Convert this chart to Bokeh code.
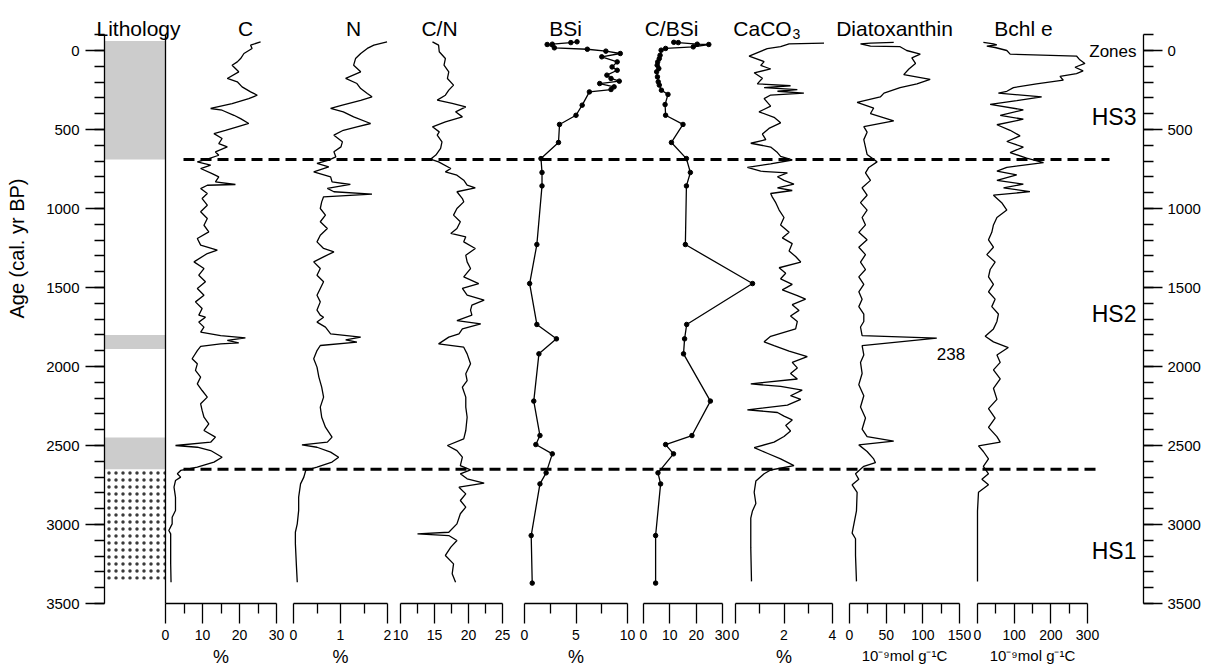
import math
from bokeh.plotting import figure
from bokeh.models import Range1d, LinearAxis, FixedTicker
from bokeh.core.properties import value
from bokeh.embed import file_html
from bokeh.resources import INLINE

FONT = "Liberation Sans"

# ---------------- data (age in cal. yr BP) ----------------
c_age = [-55,-34,-13,19,51,72,93,135,177,198,230,262,283,304,336,367,378,410,431,462,483,505,526,557,589,610,642,663,688,705,726,747,779,800,831,848,853,874,905,937,979,1021,1063,1106,1148,1190,1232,1264,1285,1338,1380,1422,1464,1506,1549,1591,1633,1675,1688,1719,1751,1783,1804,1819,1835,1850,1857,1873,1899,1951,1983,2025,2067,2110,2152,2194,2236,2278,2321,2363,2405,2447,2479,2500,2511,2532,2574,2605,2637,2658,2679,2700,2722,2764,2827,2911,2954,2996,3038,3059,3122,3249,3365]
c_val = [25.7,23.0,23.4,21.2,20.3,19.4,18.0,19.8,16.7,19.4,20.7,23.0,24.8,22.5,18.0,12.2,15.3,18.5,20.3,22.5,19.4,16.2,13.1,15.3,14.4,16.7,13.5,14.4,11.3,8.6,12.2,9.5,12.6,14.4,13.5,18.9,11.3,9.5,11.3,9.9,11.3,9.5,11.3,10.4,11.7,8.6,9.5,14.0,11.3,7.7,10.4,9.0,10.8,8.6,10.4,8.1,9.9,9.0,10.8,9.0,10.4,9.5,14.9,21.6,16.7,19.8,14.9,9.5,8.6,7.2,8.6,8.1,9.5,8.6,9.9,11.3,9.5,9.9,10.4,11.7,10.4,13.5,12.2,2.7,8.6,12.2,15.3,13.1,8.6,4.1,3.2,4.1,2.7,2.3,2.7,2.7,1.8,1.8,0.9,1.4,1.4,1.4,1.5]

n_age = [-55,-34,-13,19,51,93,135,177,209,241,272,293,315,346,367,388,420,462,483,505,536,578,610,641,673,694,715,736,768,800,831,848,873,894,909,926,958,1000,1042,1084,1127,1169,1211,1253,1274,1306,1338,1380,1422,1464,1506,1549,1591,1643,1675,
         1688,1719,1751,1793,1814,1831,1846,1867,1899,1951,2004,2067,2131,2194,2257,2321,2384,2447,2479,2496,2511,2542,2574,2605,2637,2658,2700,2743,2827,2911,2996,3049,3122,3249,3365]
n_val = [1.99,1.71,1.57,1.43,1.32,1.28,1.43,1.11,1.35,1.43,1.57,1.67,1.43,1.04,0.79,1.06,1.28,1.64,1.35,1.06,0.86,1.04,1.01,0.86,0.90,0.75,0.50,0.75,0.43,0.79,0.82,1.21,0.72,0.86,1.67,0.64,0.60,0.57,0.68,0.57,0.72,0.57,0.50,0.64,0.86,0.64,0.43,0.57,0.50,0.64,0.57,0.50,0.57,0.50,0.57,
         0.64,0.50,0.68,0.79,1.43,1.11,1.35,0.57,0.50,0.43,0.50,0.54,0.60,0.64,0.57,0.60,0.68,0.82,0.72,0.18,0.50,0.79,0.96,0.82,0.50,0.26,0.22,0.15,0.11,0.11,0.08,0.04,0.04,0.06,0.08]

cn_age = [-55,-34,8,51,93,135,177,219,251,283,314,335,357,388,420,452,483,515,536,578,620,662,688,705,747,768,789,821,852,869,894,937,958,1000,1042,1084,1127,1158,1179,1211,1253,1296,1338,1380,1433,1475,1506,1549,1580,1612,1643,1675,
          1709,1730,1762,1793,1814,1857,1878,1920,1983,2046,2089,2131,2194,2257,2321,2405,2458,2500,2532,2574,2627,2654,2679,2711,2738,2764,2806,2848,2890,2932,2996,3049,3059,3070,3101,3143,3196,3249,3312,3365]
cn_val = [14.7,15.6,15.7,16.6,16.4,17.1,16.9,17.8,17.1,16.6,15.4,17.6,19.6,18.1,19.1,16.6,14.7,15.7,15.4,16.1,15.9,15.2,14.4,15.6,17.4,16.6,18.3,19.3,19.8,21.0,18.3,19.1,19.3,18.3,17.8,18.8,18.3,17.4,19.6,19.3,21.0,19.6,19.8,20.3,19.3,21.5,19.1,19.8,22.3,20.5,20.3,20.5,
          18.3,21.8,19.1,18.6,17.1,15.6,19.3,19.8,20.3,19.6,19.8,19.1,19.6,19.6,19.8,19.6,19.3,16.9,18.3,19.1,18.8,20.3,18.8,19.8,22.3,18.6,19.6,18.8,19.6,18.8,18.3,17.1,12.5,17.1,18.3,17.4,16.6,17.8,17.6,18.1]

bsi_age = [-55,-50,-40,-38,-17,-8,4,19,40,72,104,125,156,177,194,209,230,247,262,346,410,468,582,684,772,857,1228,1475,1734,1825,1920,2219,2437,2494,2553,2673,2743,3070,3371]
bsi_val = [5.1,4.5,2.7,2.2,2.9,6.1,7.9,9.3,7.5,9.0,8.5,9.0,8.0,8.4,9.2,7.3,8.7,8.4,6.3,5.6,5.0,3.4,3.3,1.6,1.7,1.7,1.2,0.5,1.2,3.1,1.4,0.9,1.5,1.1,2.7,2.1,1.5,0.65,0.75]

cbsi_age = [-52,-50,-40,-38,-23,-13,-2,30,51,72,93,114,135,167,198,219,251,278,342,410,468,582,684,772,857,1228,1475,1734,1825,1920,2219,2437,2494,2553,2673,2743,3070,3371]
cbsi_val = [11.5,13.2,20.4,24.8,18.9,8.4,6.7,6.3,6.0,5.4,5.2,5.8,5.0,5.3,5.6,6.0,6.8,9.3,8.2,8.4,15.0,10.6,16.3,17.8,16.3,15.9,41.4,16.4,15.6,15.2,25.4,18.4,8.4,11.4,5.5,6.5,4.6,4.6]

caco3_age = [-47,-42,-24,-12,35,70,94,117,141,176,211,223,235,247,258,270,282,305,352,388,423,458,493,529,564,587,611,646,670,693,717,740,764,775,799,822,846,869,886,905,928,963,1010,1057,1104,1151,1186,1222,1269,1304,1339,1375,1410,1445,1480,1515,1551,1574,1609,1645,1680,1715,1762,1809,1844,1868,1903,1938,1974,2009,2044,2079,2110,2126,2150,2185,2208,2244,2274,2291,2314,2338,2373,2408,2443,2479,2514,2549,2585,2627,2655,2679,2725,2796,2867,2914,2960,3031,3148,3360]
caco3_val = [3.65,2.21,1.86,1.31,0.56,1.18,1.04,1.45,0.77,1.11,0.90,2.27,1.18,2.55,1.73,2.82,1.45,1.18,1.45,0.97,1.59,1.86,1.38,1.11,1.25,0.63,1.45,1.73,1.86,2.34,1.45,0.49,1.04,2.14,1.73,2.00,2.41,1.73,2.34,1.45,1.52,1.66,1.80,2.00,1.86,2.21,1.93,2.34,2.21,2.48,2.69,1.80,2.07,1.86,2.34,1.93,2.55,2.89,2.34,2.62,2.27,2.55,2.48,1.45,1.18,1.59,2.21,2.96,2.34,2.55,2.27,2.55,0.63,1.86,2.75,2.27,2.69,2.14,0.49,1.73,2.00,2.34,2.07,2.27,2.00,1.59,0.77,1.31,1.86,2.41,1.45,1.18,0.84,0.77,0.84,0.70,0.63,0.63,0.63,0.66]

diatox_age = [-52,-47,-42,-28,-24,0,23,47,82,117,153,183,211,235,270,294,329,364,399,446,482,517,564,611,658,705,740,775,822,869,916,963,1010,1057,1104,1151,1198,1245,1292,1339,1386,1433,1480,1527,1574,1621,1668,1715,1750,1805,1821,1868,1927,1974,2044,2115,2185,2256,2326,2397,2444,2472,2496,2538,2585,2609,2632,2679,2714,2749,2796,2914,3055,3090,3196,3360]
diatox_val = [60.3,28.6,15,28.6,69,78,96.5,85,90,81,74,110,92,69,47,42,10.4,33,28.6,60.3,19.5,24,19.5,21.8,24,37.6,26.3,21.8,28.6,17.2,24,15,24,17.2,21.8,12.7,24,12.7,21.8,15,21.8,12.7,19.5,12.7,17.2,12.7,19.5,19.5,15,17.2,119,17.2,19.5,15,17.2,12.7,19.5,15,21.8,17.2,24,60.3,12.7,24,33,35.4,19.5,8.2,12.7,3.6,10.4,9.5,3.6,8.2,8.2,9.5]
diatox_peak_label = "238"
diatox_peak_age = 1821

bchl_age = [-52,-47,-42,-35,-28,-19,0,23,35,59,82,106,129,146,164,188,211,235,258,270,294,317,341,376,411,435,470,505,540,576,611,646,681,709,740,764,787,822,846,869,893,916,963,1010,1057,1104,1151,1198,1245,1292,1339,1386,1433,1480,1527,1574,1621,1668,1715,1762,1809,1844,1880,1927,1974,2021,2079,2138,2208,2267,2326,2385,2444,2479,2502,2538,2585,2632,2679,2714,2749,2796,2914,3360]
bchl_val = [16,30,43.5,52.6,25.4,48,80,89,270,279,293,266,288,270,225,234,161,98,80,57,175,107,34.5,125,62,125,53,89,116,80,125,89,134,180,80,53,107,53,125,71,143,43.5,66,80,53,43.5,39,30,43.5,25.4,48,34.5,30,43.5,30,48,39,57,53,43.5,21,43.5,84,53,62,43.5,62,43.5,53,30,48,30,53,62,2.7,16,30,16,30,12,30,2.7,0,0]

# lithology (cal. yr BP)
gray_top = [-60, 1800, 2450]
gray_bottom = [690, 1890, 2650]
sand_top = [2650]
sand_bottom = [3350]

# zones
zone_bounds = [690, 2650]
zone_names = ["HS3", "HS2", "HS1"]
zone_label_age = [424, 1665, 3165]

age_major = [0, 500, 1000, 1500, 2000, 2500, 3000, 3500]
age_minor = list(range(-100, 3501, 100))

# panels: key, title, axis min, axis max, major ticks, minor ticks, unit label
panels = [
    ("C", "C", 0, 30, [0, 10, 20, 30], [5, 15, 25], "%"),
    ("N", "N", 0, 2, [0, 1, 2], [0.5, 1.5], "%"),
    ("CN", "C/N", 10, 25, [10, 15, 20, 25], [12.5, 17.5, 22.5], ""),
    ("BSi", "BSi", 0, 10, [0, 5, 10], [2.5, 7.5], "%"),
    ("CBSi", "C/BSi", 0, 30, [0, 10, 20, 30], [], ""),
    ("CaCO3", "CaCO", 0, 4, [0, 2, 4], [1, 3], "%"),
    ("Diatox", "Diatoxanthin", 0, 150, [0, 50, 100, 150], [25, 75, 125], "10\u207b\u2079mol g\u207b\u00b9C"),
    ("Bchl", "Bchl e", 0, 300, [0, 100, 200, 300], [50, 150, 250], "10\u207b\u2079mol g\u207b\u00b9C"),
]
series = {
    "C": (c_val, c_age, False), "N": (n_val, n_age, False), "CN": (cn_val, cn_age, False),
    "BSi": (bsi_val, bsi_age, True), "CBSi": (cbsi_val, cbsi_age, True),
    "CaCO3": (caco3_val, caco3_age, False), "Diatox": (diatox_val, diatox_age, False),
    "Bchl": (bchl_val, bchl_age, False),
}

# ---------------- layout (pixels) ----------------
W, H = 1211, 670
AXL, AXR = 104, 1143        # left / right age axes
AGE0_PX = 50                # pixel row of age 0
AGE_MAX = 3500
AGE_MAX_PX = 603
PPY = (AGE_MAX_PX - AGE0_PX) / AGE_MAX
panel_px = {"C": (165, 276), "N": (293, 387), "CN": (400, 502), "BSi": (524, 627),
            "CBSi": (643, 722), "CaCO3": (735, 832), "Diatox": (849, 959), "Bchl": (977, 1087)}
title_px = {"C": 245, "N": 353, "CN": 439, "BSi": 565, "CBSi": 671, "CaCO3": 762,
            "Diatox": 894, "Bchl": 1023}
LITHO_X = (104, 165)


def age_at(py):
    return (py - AGE0_PX) / PPY


def panel_range(v0, v1, px0, px1):
    s = (px1 - px0) / (v1 - v0)
    return Range1d(v0 - px0 / s, v0 + (W - px0) / s)


p = figure(frame_width=W, frame_height=H,
           x_range=Range1d(0, W), y_range=Range1d(age_at(H), age_at(0)),
           min_border_left=0, min_border_right=0, min_border_top=0, min_border_bottom=0,
           toolbar_location=None, output_backend="svg",
           x_axis_location=None, y_axis_location=None)
p.outline_line_color = None
p.grid.visible = False
p.background_fill_color = "white"
p.border_fill_color = "white"

for key, title, v0, v1, *_ in panels:
    px0, px1 = panel_px[key]
    p.extra_x_ranges[key] = panel_range(v0, v1, px0, px1)


def style_axis(ax, tick_out, label_standoff, label_size):
    ax.axis_line_color = "black"
    ax.axis_line_width = 1.3
    ax.major_tick_line_width = 1.3
    ax.minor_tick_line_width = 1.3
    ax.major_tick_line_color = "black"
    ax.minor_tick_line_color = "black"
    ax.major_tick_in = 0
    ax.major_tick_out = tick_out
    ax.minor_tick_in = 0
    ax.minor_tick_out = 10
    ax.major_label_standoff = label_standoff
    ax.major_label_text_font = FONT
    ax.major_label_text_font_size = label_size
    ax.major_label_text_color = "black"
    ax.axis_label_text_font = FONT
    ax.axis_label_text_font_style = "normal"
    ax.axis_label_text_color = "black"


# age axes on both sides
yl = LinearAxis(ticker=FixedTicker(ticks=age_major, minor_ticks=age_minor),
                bounds=(-100, AGE_MAX), fixed_location=AXL)
style_axis(yl, 19, 6, "15px")
p.add_layout(yl, "left")
yr = LinearAxis(ticker=FixedTicker(ticks=age_major, minor_ticks=age_minor),
                bounds=(-100, AGE_MAX), fixed_location=AXR)
style_axis(yr, 19, 5, "15px")
p.add_layout(yr, "right")

# one bottom axis per proxy
for key, title, v0, v1, major, minor, unit in panels:
    ax = LinearAxis(x_range_name=key, ticker=FixedTicker(ticks=major, minor_ticks=minor),
                    bounds=(v0, v1), fixed_location=AGE_MAX)
    style_axis(ax, 20, 6, "14px")
    if unit:
        ax.axis_label = unit
        ax.axis_label_text_font_size = "18px" if unit == "%" else "15px"
        ax.axis_label_standoff = 4
    p.add_layout(ax, "below")

# lithology column
p.quad(left=LITHO_X[0], right=LITHO_X[1], top=gray_top, bottom=gray_bottom,
       fill_color="#cccccc", line_color=None)
p.quad(left=LITHO_X[0], right=LITHO_X[1], top=sand_top, bottom=sand_bottom,
       fill_alpha=0, line_color=None, hatch_pattern="dot", hatch_color="#3a3a3a",
       hatch_scale=7, hatch_weight=2.6)
# separator / C-panel spine
p.segment(x0=[LITHO_X[1]], y0=[-100], x1=[LITHO_X[1]], y1=[AGE_MAX],
          line_color="black", line_width=1.3)

# zone boundaries
p.segment(x0=[183, 183], y0=zone_bounds, x1=[1109, 1098], y1=zone_bounds,
          line_color="black", line_width=3, line_dash="11 6")

# curves
for key, title, *_ in panels:
    vals, ages, dots = series[key]
    p.line(x=vals, y=ages, x_range_name=key, line_color="black", line_width=1.3)
    if dots:
        p.scatter(x=vals, y=ages, x_range_name=key, size=4.5, color="black")

# peak annotation
i_pk = diatox_age.index(diatox_peak_age)
p.text(x=[diatox_val[i_pk]], y=[age_at(353)], text=[diatox_peak_label], x_range_name="Diatox",
       text_font=value(FONT), text_font_size="17px", text_align="left",
       text_baseline="alphabetic", text_color="black")

# titles
TITLE_BASE = age_at(28)
tx = [138] + [title_px[k] for k, *_ in panels]
tt = ["Lithology"] + [t for _, t, *_ in panels]
p.text(x=tx, y=[TITLE_BASE] * len(tx), text=tt, text_font=value(FONT), text_font_size="21px",
       text_align="center", text_baseline="alphabetic", text_color="black")
p.text(x=[title_px["CaCO3"] + 30], y=[age_at(33)], text=["3"], text_font=value(FONT),
       text_font_size="14px", text_align="left", text_baseline="alphabetic", text_color="black")

# age axis title
p.text(x=[16], y=[age_at(248)], text=["Age (cal. yr BP)"], angle=math.pi / 2,
       text_font=value(FONT), text_font_size="20px", text_align="center",
       text_baseline="middle", text_color="black")

# zone labels
p.text(x=[1136] * 3, y=zone_label_age, text=zone_names, text_font=value(FONT),
       text_font_size="23px", text_align="right", text_baseline="alphabetic", text_color="black")
p.text(x=[1136], y=[age_at(51)], text=["Zones"], text_font=value(FONT),
       text_font_size="17px", text_align="right", text_baseline="alphabetic", text_color="black")

open("out.html", "w").write(file_html(p, INLINE))
